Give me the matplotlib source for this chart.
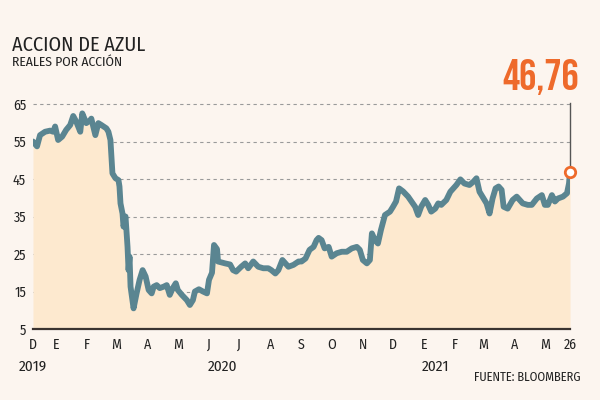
import matplotlib
matplotlib.use("Agg")
import matplotlib.pyplot as plt
import matplotlib.transforms as mtransforms
import pandas as pd
from matplotlib import font_manager

# ---------------- data ----------------
dates = [
    "2019-12-09", "2019-12-13", "2019-12-16", "2019-12-21", "2019-12-26", "2019-12-29", "2019-12-31",
    "2020-01-03", "2020-01-07", "2020-01-11", "2020-01-15", "2020-01-18", "2020-01-21", "2020-01-25",
    "2020-01-27", "2020-01-31", "2020-02-04", "2020-02-05", "2020-02-09", "2020-02-12", "2020-02-15",
    "2020-02-20", "2020-02-22", "2020-02-24", "2020-02-25", "2020-02-26", "2020-02-29", "2020-03-03",
    "2020-03-04", "2020-03-05", "2020-03-07", "2020-03-08", "2020-03-10", "2020-03-12", "2020-03-13",
    "2020-03-14", "2020-03-15", "2020-03-18", "2020-03-21", "2020-03-24", "2020-03-27", "2020-03-30",
    "2020-04-02", "2020-04-05", "2020-04-07", "2020-04-10", "2020-04-13", "2020-04-17", "2020-04-20",
    "2020-04-23", "2020-04-26", "2020-04-29", "2020-05-01", "2020-05-05", "2020-05-10", "2020-05-13",
    "2020-05-16", "2020-05-18", "2020-05-22", "2020-05-26", "2020-05-30", "2020-06-01", "2020-06-04",
    "2020-06-06", "2020-06-09", "2020-06-10", "2020-06-17", "2020-06-22", "2020-06-25", "2020-06-28",
    "2020-07-03", "2020-07-07", "2020-07-10", "2020-07-15", "2020-07-20", "2020-07-25", "2020-07-30",
    "2020-08-02", "2020-08-06", "2020-08-09", "2020-08-13", "2020-08-19", "2020-08-24", "2020-08-29",
    "2020-09-01", "2020-09-05", "2020-09-09", "2020-09-13", "2020-09-16", "2020-09-18", "2020-09-21",
    "2020-09-24", "2020-09-28", "2020-10-01", "2020-10-06", "2020-10-11", "2020-10-16", "2020-10-21",
    "2020-10-26", "2020-10-29", "2020-11-01", "2020-11-05", "2020-11-08", "2020-11-10", "2020-11-13",
    "2020-11-16", "2020-11-19", "2020-11-23", "2020-11-28", "2020-12-01", "2020-12-04", "2020-12-07",
    "2020-12-11", "2020-12-16", "2020-12-23", "2020-12-26", "2020-12-29", "2021-01-02", "2021-01-05",
    "2021-01-08", "2021-01-12", "2021-01-15", "2021-01-18", "2021-01-23", "2021-01-27", "2021-01-30",
    "2021-02-02", "2021-02-06", "2021-02-10", "2021-02-15", "2021-02-19", "2021-02-22", "2021-02-25",
    "2021-03-01", "2021-03-04", "2021-03-07", "2021-03-10", "2021-03-13", "2021-03-16", "2021-03-19",
    "2021-03-21", "2021-03-25", "2021-03-30", "2021-04-03", "2021-04-06", "2021-04-09", "2021-04-14",
    "2021-04-18", "2021-04-23", "2021-04-28", "2021-05-01", "2021-05-04", "2021-05-08", "2021-05-11",
    "2021-05-14", "2021-05-19", "2021-05-23", "2021-05-25", "2021-05-26",
]
values = [
    55.0, 53.7, 56.7, 57.6, 57.9, 57.6, 59.0,
    55.4, 56.3, 58.1, 59.4, 61.8, 60.3, 57.6,
    62.5, 59.9, 60.7, 61.1, 56.7, 59.9, 59.4,
    58.5, 57.6, 55.4, 51.0, 46.5, 45.2, 44.7,
    43.0, 38.5, 35.8, 32.3, 35.0, 26.9, 20.7,
    24.3, 16.3, 10.5, 14.5, 18.1, 20.7, 19.0,
    15.4, 14.5, 16.3, 16.7, 15.9, 16.3, 16.7,
    14.1, 15.9, 17.2, 15.4, 14.1, 12.7, 11.4,
    12.7, 15.0, 15.6, 15.0, 14.5, 18.1, 20.0,
    27.4, 26.3, 23.0, 22.5, 22.2, 20.7, 20.3,
    21.6, 22.5, 21.2, 23.0, 21.6, 21.2, 21.2,
    20.7, 19.8, 20.7, 23.4, 21.6, 22.1, 23.0,
    23.0, 23.8, 26.1, 26.9, 28.7, 29.3, 28.7,
    26.5, 26.9, 24.3, 25.2, 25.6, 25.6, 26.5,
    26.9, 26.1, 23.4, 22.5, 23.4, 30.5, 28.7,
    27.8, 31.4, 35.4, 36.3, 37.6, 39.0, 42.5,
    41.7, 40.3, 37.6, 35.4, 37.6, 39.4, 38.1,
    36.3, 37.1, 38.5, 38.1, 39.4, 41.6, 42.5,
    43.4, 44.9, 43.8, 43.4, 44.3, 45.2, 41.6,
    39.8, 38.5, 35.8, 39.8, 42.5, 43.0, 42.1,
    37.6, 37.1, 39.4, 40.3, 39.4, 38.5, 38.1,
    38.1, 39.8, 40.7, 38.1, 38.1, 40.7, 39.0,
    39.8, 40.3, 41.2, 43.8, 46.76,
]
month_tick_dates = [
    "2019-12-09", "2020-01-01", "2020-02-01", "2020-03-01", "2020-04-01", "2020-05-01",
    "2020-06-01", "2020-07-01", "2020-08-01", "2020-09-01", "2020-10-01", "2020-11-01",
    "2020-12-01", "2021-01-01", "2021-02-01", "2021-03-01", "2021-04-01", "2021-05-01",
    "2021-05-26",
]
month_tick_labels = ["D", "E", "F", "M", "A", "M", "J", "J", "A", "S", "O", "N",
                     "D", "E", "F", "M", "A", "M", "26"]
year_label_dates = ["2019-12-09", "2020-06-14", "2021-01-12"]
year_labels = ["2019", "2020", "2021"]
y_ticks = [5, 15, 25, 35, 45, 55, 65]
last_value_label = "46,76"

title = "ACCION DE AZUL"
subtitle = "REALES POR ACCIÓN"
source = "FUENTE: BLOOMBERG"

# ---------------- styles ----------------
BG = "#FCF5EF"
FILL = "#FDE9CF"
LINE = "#5A8591"
ORANGE = "#EE6A2B"
TEXT = "#222222"


def pick(*names):
    for n in names:
        try:
            font_manager.findfont(font_manager.FontProperties(family=n), fallback_to_default=False)
            return n
        except Exception:
            continue
    return "DejaVu Sans"


BODY = pick("Fira Sans Condensed", "Roboto Condensed", "Liberation Sans Narrow", "Roboto", "DejaVu Sans")
BIG = pick("Bebas Neue", "Oswald", "Anton", BODY)
plt.rcParams["font.family"] = [BODY, "DejaVu Sans"]

x = pd.to_datetime(dates)
xt = pd.to_datetime(month_tick_dates)
xy = pd.to_datetime(year_label_dates)

fig = plt.figure(figsize=(6, 4), dpi=100, facecolor=BG)
ax = fig.add_axes([33 / 600, 71 / 400, 537 / 600, (329 - 100.25) / 400])
ax.set_facecolor(BG)

ax.set_ylim(5, 66)
ax.set_xlim(x[0], x[-1])

for v in y_ticks[1:]:
    ax.axhline(v, color="#9a9a9a", lw=0.8, ls=(0, (3, 3)), zorder=1)
ax.axhline(5, color="#3a3330", lw=1.6, zorder=4, clip_on=False)

ax.fill_between(x, values, 5, color=FILL, lw=0, zorder=2)
ax.plot(x, values, color=LINE, lw=4.2, solid_joinstyle="round", solid_capstyle="round", zorder=3)

# end annotation
ax.plot([x[-1], x[-1]], [values[-1], 65.3], color="#555555", lw=1.0, zorder=4, clip_on=False)
ax.plot([x[-1]], [values[-1]], marker="o", ms=7.5, mfc="white", mec=ORANGE, mew=2.0,
        zorder=5, clip_on=False)

for s in ax.spines.values():
    s.set_visible(False)

ax.set_yticks(y_ticks)
ax.set_yticklabels([str(v) for v in y_ticks])
ax.set_xticks(xt)
ax.set_xticklabels(month_tick_labels)
ax.tick_params(axis="both", length=0, colors=TEXT)
ax.tick_params(axis="y", pad=5, labelsize=10)
ax.tick_params(axis="x", pad=6, labelsize=10)

trans = mtransforms.blended_transform_factory(ax.transData, ax.transAxes)
for d, lab in zip(xy, year_labels):
    ax.text(d, -0.167, lab, transform=trans, ha="center", va="center", fontsize=11, color=TEXT)

fig.text(12 / 600, 1 - 45 / 400, title, fontsize=14.5, color=TEXT, ha="left", va="center")
fig.text(12 / 600, 1 - 62 / 400, subtitle, fontsize=9.8, color=TEXT, ha="left", va="center")
fig.text(579 / 600, 1 - 77 / 400, last_value_label, family=[BIG, "DejaVu Sans"], fontsize=31,
         color=ORANGE, ha="right", va="center")
fig.text(581 / 600, 1 - 377 / 400, source, fontsize=9, color=TEXT, ha="right", va="center")

fig.savefig("out.png", dpi=100, facecolor=BG)
